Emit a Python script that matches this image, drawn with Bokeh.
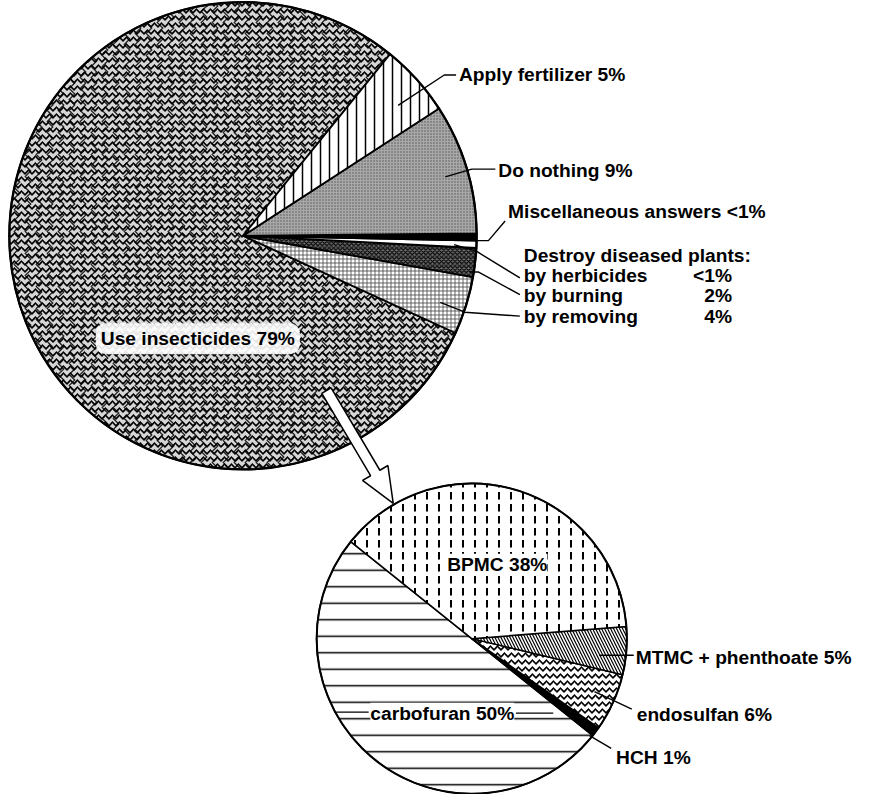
import numpy as np
from bokeh.plotting import figure
from bokeh.models import Range1d, Label, ColumnDataSource
from bokeh.embed import file_html
from bokeh.resources import INLINE
from bokeh.core.properties import value

# ---------------- data ----------------
main_names = ["Use insecticides", "by removing", "by burning", "by herbicides",
              "Miscellaneous answers", "Do nothing", "Apply fertilizer"]
main_values = [79, 4, 2, 0.5, 0.5, 9, 5]
main_pct = ["79%", "4%", "2%", "<1%", "<1%", "9%", "5%"]
group_title = "Destroy diseased plants:"

sub_names = ["carbofuran", "HCH", "endosulfan", "MTMC + phenthoate", "BPMC"]
sub_values = [50, 1, 6, 5, 38]
sub_pct = ["50%", "1%", "6%", "5%", "38%"]

# ---------------- layout helpers (reference pixel coords, y down) ----------------
H = 810
def Y(y):
    return H - y

FONT = value("Liberation Sans")
FS = "19.2px"

p = figure(width=863, height=794, x_range=Range1d(0, 879), y_range=Range1d(0, H),
           output_backend="svg", toolbar_location=None, min_border=0)
p.axis.visible = False
p.grid.visible = False
p.outline_line_color = None
p.background_fill_color = "white"

def draw_pie(cx, cy, r, values, start_deg, styles, lw, overlays=None):
    vals = np.array(values, dtype=float)
    frac = vals / vals.sum()
    edges = np.deg2rad(start_deg) + np.concatenate([[0], np.cumsum(frac)]) * 2 * np.pi
    for i, st in enumerate(styles):
        p.wedge(x=cx, y=Y(cy), radius=r, start_angle=edges[i], end_angle=edges[i + 1],
                line_color="black", line_width=lw, **st)
        if overlays and overlays[i]:
            p.wedge(x=cx, y=Y(cy), radius=r, start_angle=edges[i], end_angle=edges[i + 1],
                    line_color=None, fill_color=None, **overlays[i])
    p.circle(x=cx, y=Y(cy), radius=r, fill_color=None, line_color="black", line_width=lw + 0.5)

main_styles = [
    dict(fill_color="#d6d6d6", hatch_pattern="v", hatch_color="black", hatch_scale=7, hatch_weight=1.6),
    dict(fill_color="white", hatch_pattern="+", hatch_color="#444", hatch_scale=4, hatch_weight=0.8),
    dict(fill_color="#6e6e6e", hatch_pattern="x", hatch_color="black", hatch_scale=4.5, hatch_weight=1.2),
    dict(fill_color="white"),
    dict(fill_color="black"),
    dict(fill_color="#a8a8a8", hatch_pattern=".", hatch_color="#555", hatch_scale=3),
    dict(fill_color="white", hatch_pattern="|", hatch_color="black", hatch_scale=9, hatch_weight=1.5),
]
main_overlays = [
    dict(hatch_pattern=">", hatch_color="black", hatch_scale=11, hatch_weight=1.3, hatch_alpha=0.85),
    None, None, None, None, None, None,
]
draw_pie(247, 240, 238, main_values, 51, main_styles, 1.8, main_overlays)

sub_styles = [
    dict(fill_color="white", hatch_pattern="-", hatch_color="black", hatch_scale=16.5, hatch_weight=1.5),
    dict(fill_color="black"),
    dict(fill_color="white", hatch_pattern="v", hatch_color="black", hatch_scale=7, hatch_weight=1.6),
    dict(fill_color="white", hatch_pattern="\\", hatch_color="black", hatch_scale=6, hatch_weight=1.2),
    dict(fill_color="white", hatch_pattern=":", hatch_color="black", hatch_scale=12, hatch_weight=2),
]
draw_pie(480, 651, 158, sub_values, 141.3, sub_styles, 1.5)

# ---------------- leader lines ----------------
leaders = [
    [(405, 107), (452, 76), (464, 76)],
    [(453, 180), (480, 172), (504, 172)],
    [(483, 245), (497, 245), (514, 225)],
    [(462, 249), (485, 256), (529, 283)],
    [(478, 277), (487, 277), (529, 300)],
    [(448, 308), (473, 318), (529, 322)],
    [(610, 668), (645, 668)],
    [(605, 705), (643, 723)],
    [(600, 750), (622, 763)],
    [(340, 726), (375, 726)],
    [(525, 727), (563, 727)],
]
p.multi_line(xs=[[a for a, b in L] for L in leaders],
             ys=[[Y(b) for a, b in L] for L in leaders],
             line_color="black", line_width=1.4)

# ---------------- texts ----------------
left_texts = [
    (main_names[6] + " " + main_pct[6], 467, 75),
    (main_names[5] + " " + main_pct[5], 507, 173),
    (main_names[4] + "  " + main_pct[4], 517, 215),
    (group_title, 533, 260),
    (main_names[3], 533, 281),
    (main_names[2], 533, 301),
    (main_names[1], 533, 322),
    (sub_names[3] + " " + sub_pct[3], 647, 670),
    (sub_names[2] + " " + sub_pct[2], 648, 728),
    (sub_names[1] + " " + sub_pct[1], 627, 772),
]
src = ColumnDataSource(dict(x=[t[1] for t in left_texts], y=[Y(t[2]) for t in left_texts],
                            t=[t[0] for t in left_texts]))
p.text(x="x", y="y", text="t", source=src, text_font=FONT, text_font_style="bold",
       text_font_size=FS, text_baseline="middle", text_align="left", text_color="black")

right_texts = [(main_pct[3], 745, 281), (main_pct[2], 745, 301), (main_pct[1], 745, 322)]
src2 = ColumnDataSource(dict(x=[t[1] for t in right_texts], y=[Y(t[2]) for t in right_texts],
                             t=[t[0] for t in right_texts]))
p.text(x="x", y="y", text="t", source=src2, text_font=FONT, text_font_style="bold",
       text_font_size=FS, text_baseline="middle", text_align="right", text_color="black")

center_texts = [
    (sub_names[0] + " " + sub_pct[0], 450, 727),
    (sub_names[4] + " " + sub_pct[4], 506, 575),
]
src3 = ColumnDataSource(dict(x=[t[1] for t in center_texts], y=[Y(t[2]) for t in center_texts],
                             t=[t[0] for t in center_texts]))
p.text(x="x", y="y", text="t", source=src3, text_font=FONT, text_font_style="bold",
       text_font_size=FS, text_baseline="middle", text_align="center", text_color="black",
       background_fill_color="white", background_fill_alpha=1.0)

ins = Label(x=201, y=Y(345), text=main_names[0] + " " + main_pct[0], text_font="Liberation Sans",
            text_font_style="bold", text_font_size=FS, text_align="center", text_baseline="middle",
            text_color="black",
            background_fill_color="white", background_fill_alpha=0.9, padding=5, border_radius=10)
p.add_layout(ins)

# ---------------- arrow ----------------
tail = np.array([332.0, 398.0])
tip = np.array([400.0, 513.0])
d = tip - tail
u = d / np.linalg.norm(d)
n = np.array([-u[1], u[0]])
w, hw, hl = 5.5, 15.0, 36.0
base = tip - u * hl
pts = [tail + n * w, base + n * w, base + n * hw, tip, base - n * hw, base - n * w, tail - n * w]
p.patch(x=[q[0] for q in pts], y=[Y(q[1]) for q in pts], fill_color="white",
        line_color="black", line_width=1.5)

open("out.html", "w").write(file_html(p, INLINE))
